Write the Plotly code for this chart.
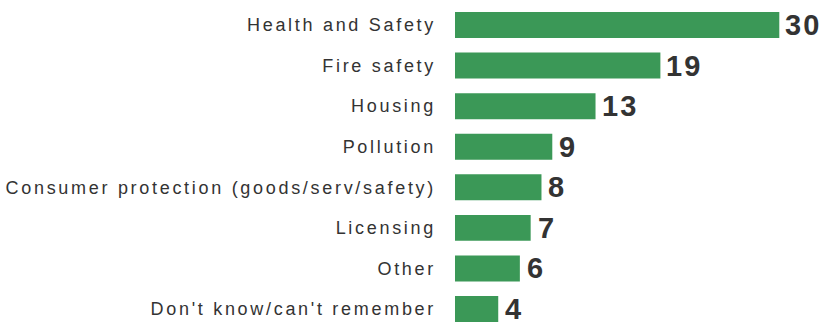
import plotly.graph_objects as go

categories = [
    "Health and Safety",
    "Fire safety",
    "Housing",
    "Pollution",
    "Consumer protection (goods/serv/safety)",
    "Licensing",
    "Other",
    "Don't know/can't remember",
]
values = [30, 19, 13, 9, 8, 7, 6, 4]

FONT = "Liberation Sans, Arial, sans-serif"

fig = go.Figure(
    go.Bar(
        x=values,
        y=categories,
        orientation="h",
        marker=dict(color="#3b9857", line=dict(width=0)),
        hoverinfo="skip",
    )
)

# value labels just past the end of each bar
for cat, v in zip(categories, values):
    fig.add_annotation(
        x=v,
        y=cat,
        text=str(v),
        showarrow=False,
        xanchor="left",
        yanchor="middle",
        xshift=6,
        font=dict(family=FONT, size=29, color="#333333", weight="bold"),
    )

fig.update_layout(
    width=826,
    height=322,
    margin=dict(l=455, r=0, t=0, b=0),
    paper_bgcolor="white",
    plot_bgcolor="white",
    bargap=0.36,
    showlegend=False,
    xaxis=dict(range=[0, 34.32], visible=False),
    yaxis=dict(
        type="category",
        categoryorder="array",
        categoryarray=categories,
        range=[7.32, -0.616],
        automargin=False,
        showgrid=False,
        zeroline=False,
        showline=False,
        ticks="",
        ticklabelstandoff=18,
        tickfont=dict(family=FONT, size=18, color="#333333"),
    ),
)

# widen the tracking of the label text
post = """
var gd = document.getElementById('{plot_id}');
function track() {
  gd.querySelectorAll('.ytick text').forEach(function (t) { t.style.letterSpacing = '2.7px'; });
  gd.querySelectorAll('.annotation-text').forEach(function (t) { t.style.letterSpacing = '2px'; });
}
track();
gd.on('plotly_afterplot', track);
"""

fig.write_html("out.html", post_script=post)
